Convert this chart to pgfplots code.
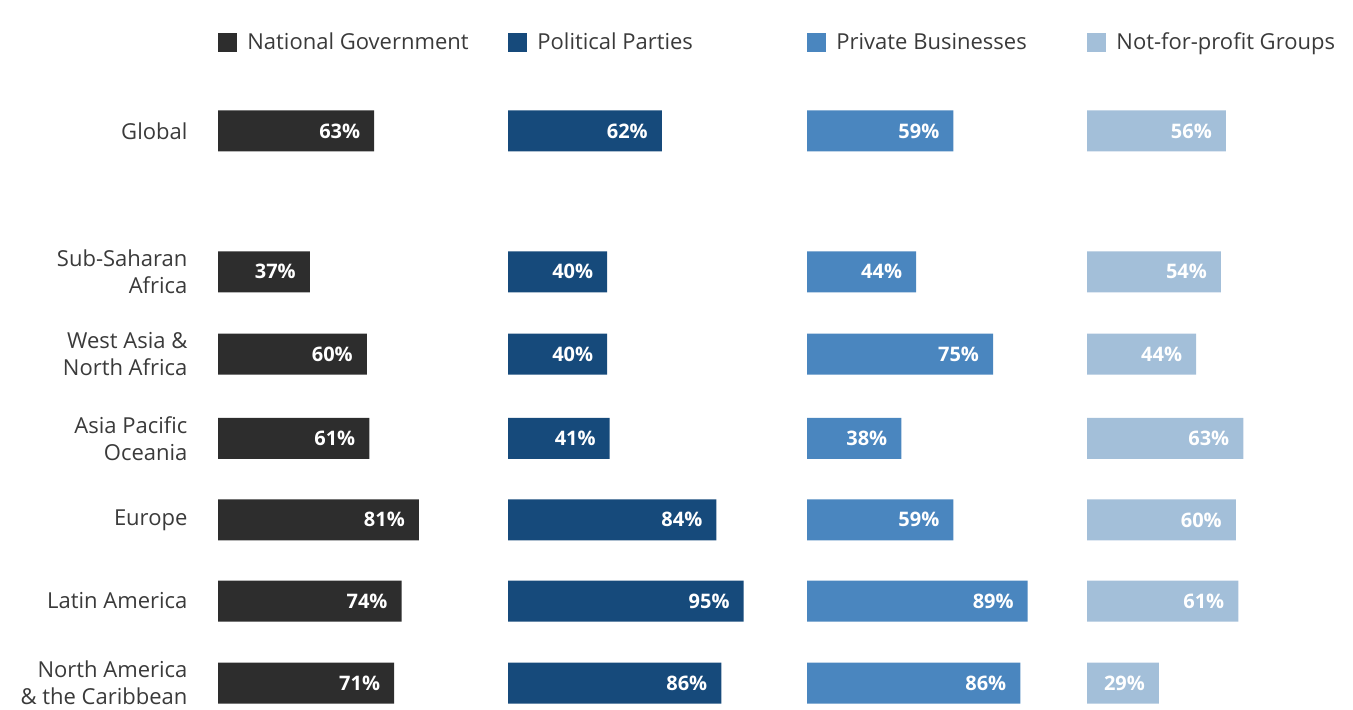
\documentclass[border=0pt]{standalone}
\usepackage{pgfplots}
\pgfplotsset{compat=1.18}
\usepackage{fontspec}
\setmainfont{Open Sans}
\definecolor{cNG}{HTML}{2D2D2D}
\definecolor{cPP}{HTML}{164A7B}
\definecolor{cPB}{HTML}{4A86BF}
\definecolor{cNF}{HTML}{A3BFD9}
\definecolor{txt}{HTML}{3A3A3A}
\pgfplotsset{
  panel/.style={
    x=1.24pt, y=41.2pt, xmin=0, xmax=100, ymin=-0.32, ymax=7.767,
    anchor=origin, clip=false,
    /pgf/number format/assume math mode=true,
    axis line style={draw=none}, major tick style={draw=none},
    xtick=\empty, ytick=\empty,
    xbar, bar width=20.5pt, bar shift=0pt,
    point meta=x,
    nodes near coords={\pgfmathprintnumber[assume math mode=true]{\pgfplotspointmeta}\%},
    nodes near coords style={anchor=east, font=\fontsize{10}{12}\selectfont\bfseries, text=white, xshift=-3.5pt},
    legend style={at={(0,1)}, anchor=west, draw=none, fill=none, inner sep=0pt,
      font=\fontsize{11}{13}\selectfont, text=txt,
      nodes={inner sep=0pt}, column sep=5pt},
    legend image code/.code={\fill[##1] (0pt,-4.75pt) rectangle (9.5pt,4.75pt);},
  }
}
\begin{document}
\begin{tikzpicture}
\begin{axis}[panel, at={(109pt,13pt)},
  ytick={0,0.995,1.98,2.97,3.99,4.99,6.70},
  yticklabels={{North America\\\& the Caribbean},{Latin America},{Europe},{Asia Pacific\\Oceania},{West Asia \&\\North Africa},{Sub-Saharan\\Africa},{Global}},
  yticklabel style={align=right, font=\fontsize{11}{13.5}\selectfont, text=txt, xshift=-7.5pt}]
\addplot[fill=cNG, draw=none] coordinates {(71,0) (74,0.995) (81,1.98) (61,2.97) (60,3.99) (37,4.99) (63,6.70)};
\addlegendentry{National Government}
\end{axis}
\begin{axis}[panel, at={(254pt,13pt)}]
\addplot[fill=cPP, draw=none] coordinates {(86,0) (95,0.995) (84,1.98) (41,2.97) (40,3.99) (40,4.99) (62,6.70)};
\addlegendentry{Political Parties}
\end{axis}
\begin{axis}[panel, at={(403.5pt,13pt)}]
\addplot[fill=cPB, draw=none] coordinates {(86,0) (89,0.995) (59,1.98) (38,2.97) (75,3.99) (44,4.99) (59,6.70)};
\addlegendentry{Private Businesses}
\end{axis}
\begin{axis}[panel, at={(543.5pt,13pt)}]
\addplot[fill=cNF, draw=none] coordinates {(29,0) (61,0.995) (60,1.98) (63,2.97) (44,3.99) (54,4.99) (56,6.70)};
\addlegendentry{Not-for-profit Groups}
\end{axis}
\pgfresetboundingbox
\path[use as bounding box] (0,0) rectangle (676.5pt,354.5pt);
\end{tikzpicture}
\end{document}
